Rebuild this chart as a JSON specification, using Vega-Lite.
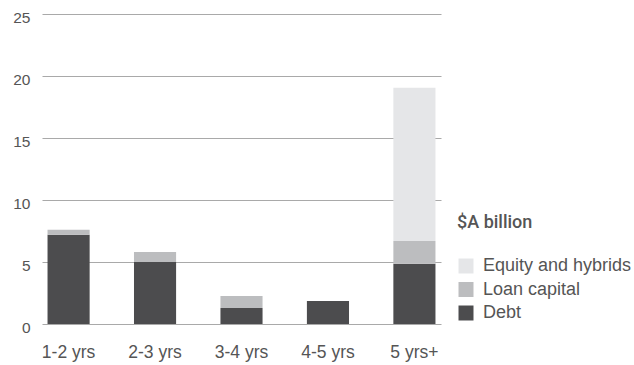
{
  "$schema": "https://vega.github.io/schema/vega-lite/v6.json",
  "width": 399,
  "height": 310,
  "autosize": {"type": "none"},
  "padding": {"left": 42, "top": 14, "right": 193, "bottom": 41},
  "background": "white",
  "data": {
    "values": [
      {"term": "1-2 yrs", "type": "Debt", "value": 7.2},
      {"term": "1-2 yrs", "type": "Loan capital", "value": 0.4},
      {"term": "2-3 yrs", "type": "Debt", "value": 5.0},
      {"term": "2-3 yrs", "type": "Loan capital", "value": 0.8},
      {"term": "3-4 yrs", "type": "Debt", "value": 1.3},
      {"term": "3-4 yrs", "type": "Loan capital", "value": 0.95},
      {"term": "4-5 yrs", "type": "Debt", "value": 1.85},
      {"term": "5 yrs+", "type": "Debt", "value": 4.85},
      {"term": "5 yrs+", "type": "Loan capital", "value": 1.85},
      {"term": "5 yrs+", "type": "Equity and hybrids", "value": 12.35}
    ]
  },
  "transform": [
    {"calculate": "indexof(['Debt','Loan capital','Equity and hybrids'], datum.type)", "as": "stackOrder"}
  ],
  "mark": {"type": "bar"},
  "encoding": {
    "x": {
      "field": "term",
      "type": "nominal",
      "sort": ["1-2 yrs", "2-3 yrs", "3-4 yrs", "4-5 yrs", "5 yrs+"],
      "scale": {"paddingInner": 0.513, "paddingOuter": 0.064},
      "axis": {
        "title": null,
        "labelAngle": 0,
        "domain": false,
        "ticks": false,
        "grid": false,
        "labelPadding": 19,
        "labelBaseline": "top",
        "labelFontSize": 17.5,
        "labelColor": "#555555",
        "labelFont": "Liberation Sans"
      }
    },
    "y": {
      "field": "value",
      "type": "quantitative",
      "aggregate": "sum",
      "stack": "zero",
      "scale": {"domain": [0, 25], "nice": false},
      "axis": {
        "title": null,
        "values": [0, 5, 10, 15, 20, 25],
        "domain": false,
        "ticks": false,
        "grid": true,
        "gridColor": "#a9a9a9",
        "gridWidth": 1,
        "labelPadding": 12,
        "labelOffset": 3,
        "labelFontSize": 15.5,
        "labelColor": "#555555",
        "labelFont": "Liberation Sans"
      }
    },
    "order": {"field": "stackOrder", "type": "quantitative", "sort": "ascending"},
    "color": {
      "field": "type",
      "type": "nominal",
      "scale": {
        "domain": ["Equity and hybrids", "Loan capital", "Debt"],
        "range": ["#e5e6e8", "#bcbdbf", "#4c4c4e"]
      },
      "legend": {
        "title": "$A billion",
        "orient": "none",
        "legendX": 415,
        "legendY": 200,
        "titleFont": "Roboto",
        "titleFontSize": 18,
        "titleFontWeight": 500,
        "titleColor": "#555555",
        "titlePadding": 25,
        "labelFont": "Liberation Sans",
        "labelFontSize": 18,
        "labelColor": "#555555",
        "labelOffset": 8,
        "labelLimit": 200,
        "symbolType": "square",
        "symbolSize": 225,
        "symbolStrokeWidth": 0,
        "symbolOpacity": 1,
        "rowPadding": 5.5
      }
    }
  },
  "config": {
    "view": {"stroke": null},
    "font": "Liberation Sans"
  }
}
